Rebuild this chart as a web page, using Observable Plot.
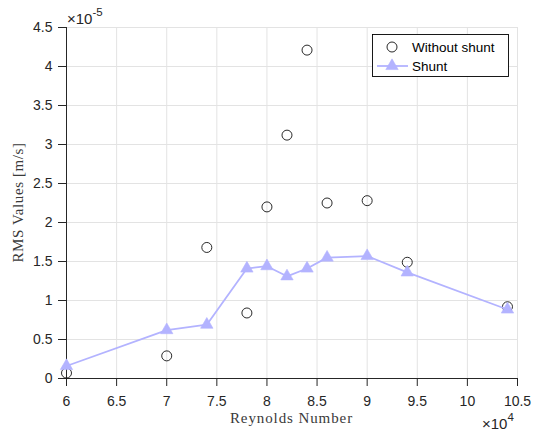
<!DOCTYPE html>
<html>
<head>
<meta charset="utf-8">
<script src="https://cdn.jsdelivr.net/npm/d3@7"></script>
<script src="https://cdn.jsdelivr.net/npm/@observablehq/plot@0.6"></script>
<style>
  html, body { margin: 0; padding: 0; background: #fff; }
  svg { display: block; }
</style>
</head>
<body>
<div id="chart"></div>
<script>
// Reynolds number (×10^4)
const reynolds = [6, 7, 7.4, 7.8, 8.0, 8.2, 8.4, 8.6, 9.0, 9.4, 10.4];
// RMS values (×10^-5 m/s)
const withoutShunt = [0.07, 0.29, 1.68, 0.84, 2.20, 3.12, 4.21, 2.25, 2.28, 1.49, 0.92];
const shunt = [0.16, 0.62, 0.69, 1.41, 1.44, 1.31, 1.41, 1.55, 1.57, 1.36, 0.885];

const xTicks = [6, 6.5, 7, 7.5, 8, 8.5, 9, 9.5, 10, 10.5];
const xTickLabels = ["6", "6.5", "7", "7.5", "8", "8.5", "9", "9.5", "10", "10.5"];
const yTicks = [0, 0.5, 1, 1.5, 2, 2.5, 3, 3.5, 4, 4.5];
const yTickLabels = ["0", "0.5", "1", "1.5", "2", "2.5", "3", "3.5", "4", "4.5"];

const seriesNames = ["Without shunt", "Shunt"];
const xLabel = "Reynolds Number";
const yLabel = "RMS Values [m/s]";
const xExponent = "4";
const yExponent = "-5";

const shuntColor = "#b3b3ff";
const axisColor = "#262626";

const rowsWithout = reynolds.map((r, i) => ({x: r, y: withoutShunt[i]}));
const rowsShunt = reynolds.map((r, i) => ({x: r, y: shunt[i]}));

const W = 533, H = 432;
const mL = 66, mR = 16, mT = 27, mB = 54;
const sans = "'Liberation Sans', Arial, Helvetica, sans-serif";

const chart = Plot.plot({
  width: W,
  height: H,
  marginLeft: mL,
  marginRight: mR,
  marginTop: mT,
  marginBottom: mB,
  style: {fontFamily: sans, fontSize: "14px", color: axisColor, background: "#fff", overflow: "visible"},
  x: {domain: [6, 10.5], label: null},
  y: {domain: [0, 4.5], label: null},
  marks: [
    Plot.gridX(xTicks, {stroke: "#e3e3e3", strokeOpacity: 1}),
    Plot.gridY(yTicks, {stroke: "#e3e3e3", strokeOpacity: 1}),
    Plot.axisX({ticks: xTicks, tickFormat: (d) => xTickLabels[xTicks.indexOf(d)], tickSize: 8, tickPadding: 10, stroke: axisColor, fill: axisColor, label: null}),
    Plot.axisY({ticks: yTicks, tickFormat: (d) => yTickLabels[yTicks.indexOf(d)], tickSize: 8, tickPadding: 6, stroke: axisColor, fill: axisColor, label: null}),
    Plot.ruleY([0], {stroke: axisColor, strokeWidth: 1}),
    Plot.ruleX([6], {stroke: axisColor, strokeWidth: 1}),
    Plot.dot(rowsWithout, {x: "x", y: "y", r: 5, stroke: "#111", strokeWidth: 0.9, fill: "none"}),
    Plot.line(rowsShunt, {x: "x", y: "y", stroke: shuntColor, strokeWidth: 1.8}),
    Plot.dot(rowsShunt, {x: "x", y: "y", symbol: "triangle", r: 4.6, fill: shuntColor, stroke: shuntColor, strokeWidth: 0.6})
  ]
});

document.getElementById("chart").appendChild(chart);

const svg = d3.select(chart);
const serif = "'Liberation Serif', 'Times New Roman', serif";

// Y exponent label
const ye = svg.append("text").attr("x", 67).attr("y", 24).attr("text-anchor", "start")
  .style("font-family", sans).style("font-size", "15px").attr("fill", axisColor);
ye.append("tspan").text("\u00d710");
ye.append("tspan").attr("dy", -8).style("font-size", "11.5px").text(yExponent);

// X exponent label
const xe = svg.append("text").attr("x", 482).attr("y", 429).attr("text-anchor", "start")
  .style("font-family", sans).style("font-size", "15px").attr("fill", axisColor);
xe.append("tspan").text("\u00d710");
xe.append("tspan").attr("dy", -8).style("font-size", "11.5px").text(xExponent);

// Axis titles
svg.append("text").attr("x", (mL + W - mR) / 2).attr("y", 423)
  .attr("text-anchor", "middle").style("font-family", serif).style("font-size", "15px")
  .attr("letter-spacing", "0.9px").attr("fill", "#3a3a3a").text(xLabel);

svg.append("text").attr("transform", `translate(23,${(mT + H - mB) / 2}) rotate(-90)`)
  .attr("text-anchor", "middle").style("font-family", serif).style("font-size", "15px")
  .attr("letter-spacing", "0.6px").attr("fill", "#3a3a3a").text(yLabel);

// Legend
const lg = svg.append("g").style("font-family", sans).style("font-size", "13.5px").attr("text-anchor", "start");
lg.append("rect").attr("x", 372.5).attr("y", 34.5).attr("width", 136).attr("height", 42)
  .attr("fill", "#fff").attr("stroke", "#000").attr("stroke-width", 0.9);
lg.append("circle").attr("cx", 392).attr("cy", 47).attr("r", 5).attr("fill", "none").attr("stroke", "#111").attr("stroke-width", 0.9);
lg.append("text").attr("x", 412).attr("y", 52).attr("fill", "#000").text(seriesNames[0]);
lg.append("line").attr("x1", 377).attr("x2", 408).attr("y1", 66).attr("y2", 66).attr("stroke", shuntColor).attr("stroke-width", 1.8);
lg.append("path").attr("transform", "translate(392,66)").attr("d", d3.symbol(d3.symbolTriangle, Math.PI * 4.6 * 4.6)()).attr("fill", shuntColor).attr("stroke", shuntColor).attr("stroke-width", 0.6);
lg.append("text").attr("x", 412).attr("y", 71).attr("fill", "#000").text(seriesNames[1]);
</script>
</body>
</html>
